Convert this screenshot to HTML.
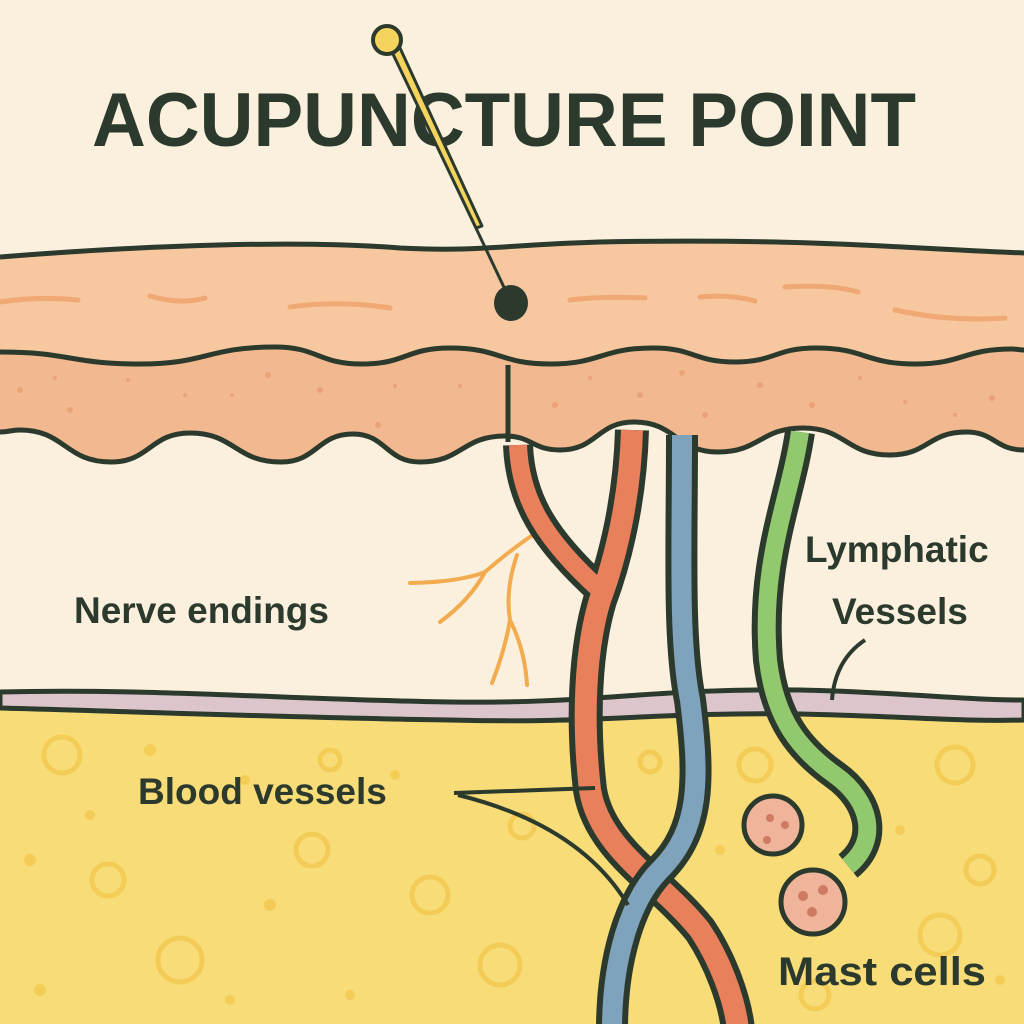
<!DOCTYPE html>
<html><head><meta charset="utf-8"><style>
html,body{margin:0;padding:0;background:#fbf0de}
svg{display:block}
text{font-family:"Liberation Sans",Arial,sans-serif;font-weight:bold;fill:#2b3a2c}
</style></head><body>
<svg width="1024" height="1024" viewBox="0 0 1024 1024" xmlns="http://www.w3.org/2000/svg">
<rect width="1024" height="1024" fill="#fbf0de"/>
<!-- fat layer -->
<rect x="0" y="700" width="1024" height="324" fill="#f7dc78"/>
<g fill="none" stroke="#f3c94f" stroke-width="5" opacity="0.8">
<circle cx="62" cy="755" r="18"/><circle cx="108" cy="880" r="16"/><circle cx="180" cy="960" r="22"/><circle cx="312" cy="850" r="16"/><circle cx="430" cy="895" r="18"/><circle cx="500" cy="965" r="20"/><circle cx="522" cy="826" r="12"/><circle cx="755" cy="765" r="16"/><circle cx="955" cy="765" r="18"/><circle cx="980" cy="870" r="14"/><circle cx="940" cy="935" r="20"/><circle cx="330" cy="760" r="10"/><circle cx="650" cy="762" r="10"/><circle cx="815" cy="995" r="14"/>
</g>
<g fill="#f3c94f" opacity="0.8">
<circle cx="30" cy="860" r="6"/><circle cx="90" cy="815" r="5"/><circle cx="150" cy="750" r="6"/><circle cx="245" cy="780" r="5"/><circle cx="270" cy="905" r="6"/><circle cx="350" cy="995" r="5"/><circle cx="395" cy="775" r="5"/><circle cx="40" cy="990" r="6"/><circle cx="230" cy="1000" r="5"/><circle cx="900" cy="830" r="5"/><circle cx="1000" cy="980" r="5"/><circle cx="720" cy="850" r="5"/>
</g>
<!-- top skin -->
<path d="M0,257 C150,245 300,240 400,248 C480,252 500,245 600,242 C800,238 900,248 1024,253 L1024,480 L0,480Z" fill="#f7c79f"/>
<!-- lower dermis -->
<path d="M0,352 C70,352 70,364 140,364 C207,364 207,347 275,347 C318,347 318,364 362,364 C406,364 406,348 450,348 C500,348 500,364 550,364 C601,364 601,348 653,348 C694,348 694,362 735,362 C775,362 775,348 816,348 C865,348 865,364 915,364 C963,364 963,349 1012,349 C1018,349 1018,350 1024,350 L1024,480 L0,480Z" fill="#f2b88f"/>
<g fill="#e89a70" opacity="0.7">
<circle cx="20" cy="390" r="3"/><circle cx="55" cy="378" r="2"/><circle cx="70" cy="410" r="3"/><circle cx="128" cy="380" r="2"/><circle cx="185" cy="395" r="2"/><circle cx="232" cy="395" r="2"/><circle cx="268" cy="375" r="3"/><circle cx="320" cy="390" r="3"/><circle cx="378" cy="425" r="3"/><circle cx="395" cy="386" r="2"/><circle cx="460" cy="386" r="2"/><circle cx="555" cy="405" r="3"/><circle cx="590" cy="378" r="2"/><circle cx="640" cy="395" r="3"/><circle cx="682" cy="373" r="3"/><circle cx="705" cy="415" r="3"/><circle cx="760" cy="385" r="3"/><circle cx="812" cy="405" r="3"/><circle cx="860" cy="378" r="2"/><circle cx="905" cy="402" r="2"/><circle cx="955" cy="415" r="2"/><circle cx="992" cy="398" r="3"/>
</g>
<!-- cream below line3 -->
<path d="M0,432 C10,432 10,430 20,430 C65,430 65,462 111,462 C150,462 150,433 190,433 C235,433 235,462 281,462 C317,462 317,434 353,434 C386,434 386,462 420,462 C462,462 462,436 505,436 C532,436 532,450 560,450 C597,450 597,422 634,422 C676,422 676,452 718,452 C760,452 760,428 803,428 C846,428 846,455 890,455 C928,455 928,432 966,432 C995,432 995,450 1024,450 L1024,702 L0,702Z" fill="#fbf0de"/>
<!-- lines -->
<g fill="none" stroke="#2b3a2c" stroke-width="5">
<path d="M0,257 C150,245 300,240 400,248 C480,252 500,245 600,242 C800,238 900,248 1024,253"/>
<path d="M0,352 C70,352 70,364 140,364 C207,364 207,347 275,347 C318,347 318,364 362,364 C406,364 406,348 450,348 C500,348 500,364 550,364 C601,364 601,348 653,348 C694,348 694,362 735,362 C775,362 775,348 816,348 C865,348 865,364 915,364 C963,364 963,349 1012,349 C1018,349 1018,350 1024,350"/>
<path d="M0,432 C10,432 10,430 20,430 C65,430 65,462 111,462 C150,462 150,433 190,433 C235,433 235,462 281,462 C317,462 317,434 353,434 C386,434 386,462 420,462 C462,462 462,436 505,436 C532,436 532,450 560,450 C597,450 597,422 634,422 C676,422 676,452 718,452 C760,452 760,428 803,428 C846,428 846,455 890,455 C928,455 928,432 966,432 C995,432 995,450 1024,450"/>
</g>
<g stroke="#eea06a" stroke-width="5" fill="none" stroke-linecap="round" opacity="0.8">
<path d="M0,302 Q40,296 78,300"/><path d="M150,296 Q180,305 205,298"/><path d="M290,307 Q340,300 390,308"/><path d="M570,300 Q600,296 645,298"/><path d="M700,297 Q730,294 755,301"/><path d="M785,287 Q830,284 858,292"/><path d="M895,310 Q950,322 1005,318"/>
</g>
<!-- purple band -->
<path d="M0,692 C150,688 300,700 450,702 C600,704 650,688 800,690 C900,692 960,700 1024,700 L1024,720 C960,722 900,716 800,714 C650,712 600,724 450,720 C300,718 150,712 0,708Z" fill="#dcc6cc" stroke="#2b3a2c" stroke-width="5"/>
<!-- title -->
<text x="92" y="146" font-size="76" textLength="824" lengthAdjust="spacingAndGlyphs">ACUPUNCTURE POINT</text>
<!-- needle -->
<line x1="388" y1="42" x2="510" y2="300" stroke="#2b3a2c" stroke-width="3"/>
<path d="M392,52 L476,228 L482,226 L400,48Z" fill="#f4d35e" stroke="#2b3a2c" stroke-width="3" stroke-linejoin="round"/>
<circle cx="387" cy="40" r="14" fill="#f4d35e" stroke="#2b3a2c" stroke-width="4"/>
<ellipse cx="511" cy="303" rx="17" ry="18" fill="#2b3a2c"/>
<line x1="508" y1="365" x2="508" y2="442" stroke="#2b3a2c" stroke-width="5"/>
<!-- nerve endings -->
<g stroke="#f2ac4f" stroke-width="4" fill="none" stroke-linecap="round">
<path d="M410,583 Q460,582 485,572 Q510,550 540,530"/><path d="M440,622 Q470,600 485,572"/><path d="M517,555 Q505,590 510,620 Q505,650 492,683"/><path d="M510,620 Q525,650 527,685"/>
</g>
<!-- vessels -->
<g fill="none" stroke-linecap="butt">
<path d="M632,430 C630,500 615,560 600,600 C585,650 582,720 590,790 C600,850 660,880 700,930 C720,960 735,1000 738,1030" stroke="#2b3a2c" stroke-width="34"/>
<path d="M518,445 C520,500 545,540 600,590" stroke="#2b3a2c" stroke-width="30"/>
<path d="M518,445 C520,500 545,540 600,590" stroke="#e8805c" stroke-width="18"/>
<path d="M632,430 C630,500 615,560 600,600 C585,650 582,720 590,790 C600,850 660,880 700,930 C720,960 735,1000 738,1030" stroke="#e8805c" stroke-width="22"/>
<path d="M682,435 C682,550 678,640 690,700 C700,780 700,830 660,870 C630,900 612,960 612,1030" stroke="#2b3a2c" stroke-width="32"/>
<path d="M682,435 C682,550 678,640 690,700 C700,780 700,830 660,870 C630,900 612,960 612,1030" stroke="#7fa3bd" stroke-width="20"/>
<path d="M800,432 C790,500 760,560 768,660 C775,720 800,750 835,775 C870,800 880,840 848,866" stroke="#2b3a2c" stroke-width="30"/>
<path d="M800,432 C790,500 760,560 768,660 C775,720 800,750 835,775 C870,800 880,840 848,866" stroke="#92c96e" stroke-width="18"/>
</g>
<!-- mast cells -->
<circle cx="773" cy="825" r="29" fill="#efb49a" stroke="#2b3a2c" stroke-width="5"/>
<g fill="#cf7a62"><circle cx="770" cy="818" r="4"/><circle cx="785" cy="825" r="4"/><circle cx="767" cy="840" r="4"/></g>
<circle cx="813" cy="902" r="32" fill="#efb49a" stroke="#2b3a2c" stroke-width="5"/>
<g fill="#cf7a62"><circle cx="803" cy="896" r="5"/><circle cx="823" cy="890" r="5"/><circle cx="812" cy="912" r="5"/></g>
<!-- labels -->
<text x="74" y="623" font-size="37">Nerve endings</text>
<text x="805" y="562" font-size="37">Lymphatic</text>
<text x="832" y="624" font-size="37">Vessels</text>
<path d="M865,640 Q835,660 832,700" stroke="#2b3a2c" stroke-width="4" fill="none"/>
<text x="138" y="804" font-size="37">Blood vessels</text>
<path d="M454,793 L595,788" stroke="#2b3a2c" stroke-width="4" fill="none"/>
<path d="M458,795 Q580,825 628,905" stroke="#2b3a2c" stroke-width="4" fill="none"/>
<text x="778" y="985" font-size="40" textLength="208" lengthAdjust="spacingAndGlyphs">Mast cells</text>
</svg>
</body></html>
